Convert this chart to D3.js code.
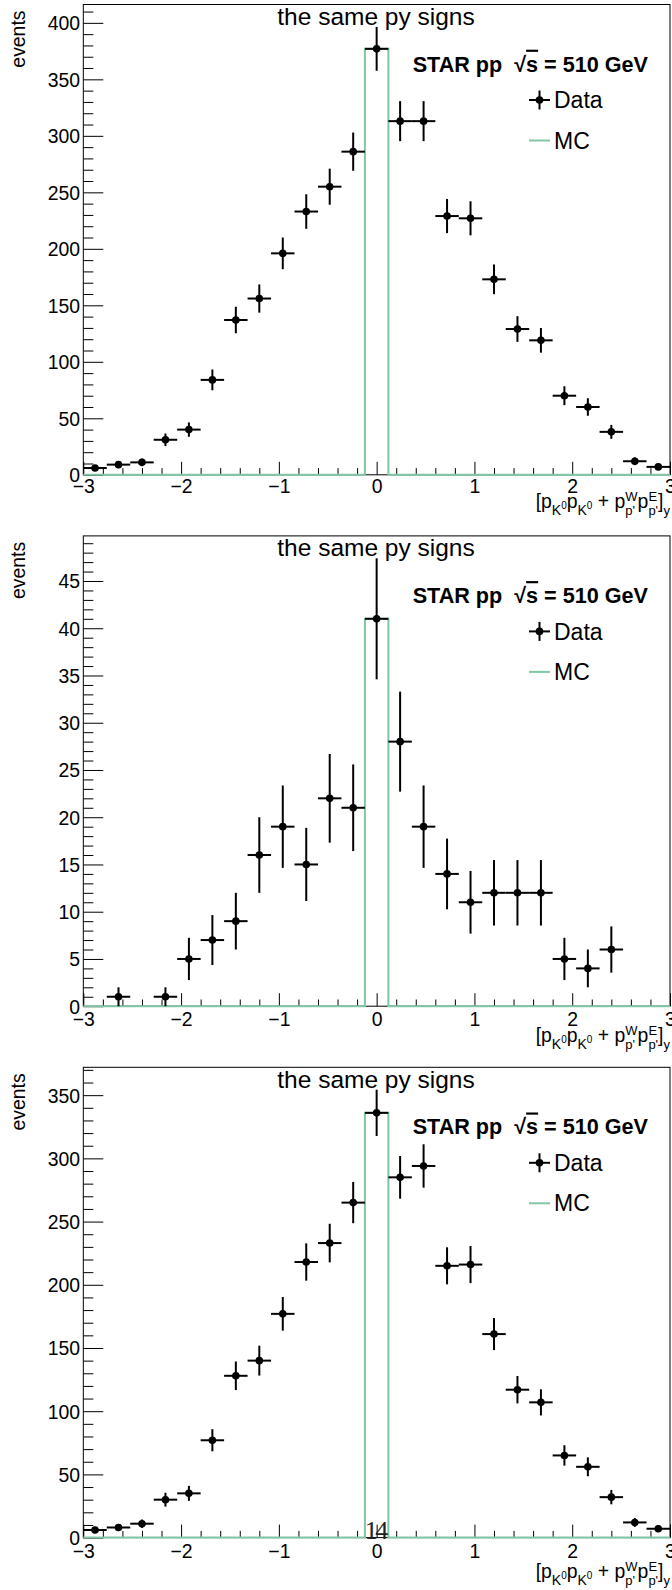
<!DOCTYPE html>
<html>
<head>
<meta charset="utf-8">
<script src="https://cdn.jsdelivr.net/npm/d3@7"></script>
<style>
  html, body { margin: 0; padding: 0; background: #fff; }
  svg { display: block; }
  text { font-family: "Liberation Sans", Arial, Helvetica, sans-serif; fill: #000; }
</style>
</head>
<body>
<svg id="chart" width="672" height="1590"></svg>
<script>
// ---------- data ----------
const binCenters = [-2.88, -2.64, -2.40, -2.16, -1.92, -1.68, -1.44, -1.20, -0.96, -0.72, -0.48, -0.24,
                    0.00, 0.24, 0.48, 0.72, 0.96, 1.20, 1.44, 1.68, 1.92, 2.16, 2.40, 2.64, 2.88];
const binWidth = 0.24;
const data1 = [6, 9, 11, 31, 40, 84, 137, 156, 196, 233, 255, 286, 377, 313, 313, 229, 227, 173, 129, 119, 70, 60, 38, 12, 7];
const data2 = [0, 1, 0, 1, 5, 7, 9, 16, 19, 15, 22, 21, 41, 28, 19, 14, 11, 12, 12, 12, 5, 4, 6, 0, 0];
const data3 = [6, 8, 11, 30, 35, 77, 128, 140, 177, 218, 233, 265, 336, 285, 294, 215, 216, 161, 117, 107, 65, 56, 32, 12, 7];
const mc1 = [0, 0, 0, 0, 0, 0, 0, 0, 0, 0, 0, 0, 377, 0, 0, 0, 0, 0, 0, 0, 0, 0, 0, 0, 0];
const mc2 = [0, 0, 0, 0, 0, 0, 0, 0, 0, 0, 0, 0, 41, 0, 0, 0, 0, 0, 0, 0, 0, 0, 0, 0, 0];
const mc3 = [0, 0, 0, 0, 0, 0, 0, 0, 0, 0, 0, 0, 336, 0, 0, 0, 0, 0, 0, 0, 0, 0, 0, 0, 0];
const xTickLabels = [-3, -2, -1, 0, 1, 2, 3];
const yMajor1 = [0, 50, 100, 150, 200, 250, 300, 350, 400];
const yMajor2 = [0, 5, 10, 15, 20, 25, 30, 35, 40, 45];
const yMajor3 = [0, 50, 100, 150, 200, 250, 300, 350];
const yMinorStep = [10, 1, 10];
const titleText = "the same py signs";
const yTitle = "events";
const legendLabels = ["Data", "MC"];

const panels = [
  { data: data1, mc: mc1, major: yMajor1, minor: yMinorStep[0], note: null, labPad: 4.5, titleOff: 33 },
  { data: data2, mc: mc2, major: yMajor2, minor: yMinorStep[1], note: null, labPad: 6, titleOff: 36 },
  { data: data3, mc: mc3, major: yMajor3, minor: yMinorStep[2], note: "14", labPad: 7, titleOff: 40 }
];

// ---------- layout ----------
const padH = 531.4;
const L = 83.3, R = 670, T = 4.5, B = 474.8;
const green = "#80c6a4";
const fs = 19.4;

const svg = d3.select("#chart");

const x = d3.scaleLinear().domain([-3, 3]).range([L, R]);

panels.forEach((p, i) => {
  const g = svg.append("g").attr("transform", `translate(0,${i * padH})`);
  const ymax = 1.05 * d3.max(p.data, v => v + Math.sqrt(v));
  const y = d3.scaleLinear().domain([0, ymax]).range([B, T]);

  // minor y ticks
  const minorTicks = d3.range(0, ymax, p.minor).filter(v => !p.major.includes(v));
  g.append("g").attr("transform", `translate(${L},0)`)
    .call(d3.axisLeft(y).tickValues(minorTicks).tickSizeInner(-10).tickSizeOuter(0).tickFormat(""))
    .call(s => s.select(".domain").remove())
    .call(s => s.selectAll("line").attr("stroke", "#000").attr("stroke-width", 1));
  // major y ticks
  g.append("g").attr("transform", `translate(${L},0)`)
    .call(d3.axisLeft(y).tickValues(p.major).tickSizeInner(-20).tickSizeOuter(0).tickPadding(3.3).tickFormat(d3.format("d")))
    .call(s => s.select(".domain").remove())
    .call(s => s.selectAll("line").attr("stroke", "#000").attr("stroke-width", 1))
    .call(s => s.selectAll("text").attr("font-size", fs).attr("font-family", null).attr("dy", "0.36em"));

  // x minor ticks
  const xMinor = d3.range(-3, 3.0001, 0.2).map(v => +v.toFixed(2)).filter(v => Math.abs(v - Math.round(v)) > 1e-6);
  g.append("g").attr("transform", `translate(0,${B})`)
    .call(d3.axisBottom(x).tickValues(xMinor).tickSizeInner(-6.7).tickSizeOuter(0).tickFormat(""))
    .call(s => s.select(".domain").remove())
    .call(s => s.selectAll("line").attr("stroke", "#000").attr("stroke-width", 1));
  g.append("g").attr("transform", `translate(0,${B})`)
    .call(d3.axisBottom(x).tickValues(xTickLabels).tickSizeInner(-13).tickSizeOuter(0).tickPadding(p.labPad)
      .tickFormat(d => d < 0 ? "\u2212" + Math.abs(d) : String(d)))
    .call(s => s.select(".domain").remove())
    .call(s => s.selectAll("line").attr("stroke", "#000").attr("stroke-width", 1))
    .call(s => s.selectAll("text").attr("font-size", fs).attr("font-family", null));

  // frame
  g.append("rect").attr("x", L).attr("y", T).attr("width", R - L).attr("height", B - T)
    .attr("fill", "none").attr("stroke", "#000").attr("stroke-width", 1);

  // MC histogram outline
  const pts = [];
  binCenters.forEach((c, k) => {
    pts.push([c - binWidth / 2, p.mc[k]]);
    pts.push([c + binWidth / 2, p.mc[k]]);
  });
  const line = d3.line().x(d => x(d[0])).y(d => y(d[1]));
  g.append("path").attr("d", line(pts)).attr("fill", "none")
    .attr("stroke", green).attr("stroke-width", 2);

  // note text (panel 3)
  if (p.note) {
    g.append("text").attr("x", x(0) - 12).attr("y", B + 1.5).text(p.note)
      .style("font-family", "'Liberation Serif', 'Times New Roman', serif")
      .attr("font-size", 26).attr("letter-spacing", -2.5).style("fill", "#222");
  }

  // data points with error bars
  const pd = binCenters.map((c, k) => ({ c, v: p.data[k] })).filter(d => d.v > 0);
  const dg = g.append("g");
  dg.selectAll("line.h").data(pd).join("line")
    .attr("x1", d => x(d.c - binWidth / 2)).attr("x2", d => x(d.c + binWidth / 2))
    .attr("y1", d => y(d.v)).attr("y2", d => y(d.v))
    .attr("stroke", "#000").attr("stroke-width", 2);
  dg.selectAll("line.v").data(pd).join("line")
    .attr("x1", d => x(d.c)).attr("x2", d => x(d.c))
    .attr("y1", d => y(d.v - Math.sqrt(d.v))).attr("y2", d => y(d.v + Math.sqrt(d.v)))
    .attr("stroke", "#000").attr("stroke-width", 2);
  dg.selectAll("circle").data(pd).join("circle")
    .attr("cx", d => x(d.c)).attr("cy", d => y(d.v)).attr("r", 3.8).attr("fill", "#000");

  // title
  g.append("text").attr("x", 376).attr("y", 25).attr("text-anchor", "middle")
    .attr("font-size", 24.5).text(titleText);

  // y title
  g.append("text").attr("transform", `translate(24.5,10.5) rotate(-90)`)
    .attr("text-anchor", "end").attr("font-size", fs).text(yTitle);

  // STAR label
  const st = g.append("text").attr("x", 412.7).attr("y", 71.7).attr("font-size", 21.6)
    .attr("font-weight", "bold").style("white-space", "pre");
  st.append("tspan").text("STAR pp  \u221A");
  st.append("tspan").style("text-decoration", "overline").text("s");
  st.append("tspan").text(" = 510 GeV");

  // legend
  const ly1 = 100, ly2 = 140.5;
  g.append("line").attr("x1", 529).attr("x2", 550).attr("y1", ly1).attr("y2", ly1).attr("stroke", "#000").attr("stroke-width", 2);
  g.append("line").attr("x1", 539.5).attr("x2", 539.5).attr("y1", ly1 - 9.5).attr("y2", ly1 + 9.5).attr("stroke", "#000").attr("stroke-width", 2);
  g.append("circle").attr("cx", 539.5).attr("cy", ly1).attr("r", 3.8).attr("fill", "#000");
  g.append("text").attr("x", 554).attr("y", ly1 + 8.2).attr("font-size", 23).text(legendLabels[0]);
  g.append("line").attr("x1", 529).attr("x2", 550).attr("y1", ly2).attr("y2", ly2).attr("stroke", green).attr("stroke-width", 2);
  g.append("text").attr("x", 554).attr("y", ly2 + 8.2).attr("font-size", 23).text(legendLabels[1]);

  // x-axis title with sub/superscripts
  const segs = [
    { t: "[p", s: fs, b: 0 },
    { t: "K", s: 14, b: 7 },
    { t: "0", s: 10, b: 1 },
    { t: "p", s: fs, b: 0 },
    { t: "K", s: 14, b: 7 },
    { t: "0", s: 10, b: 1 },
    { t: " + p", s: fs, b: 0 },
    { t: "W", s: 13, b: -7 },
    { t: "p'", s: 13, b: 7, dx: -12.3 },
    { t: "p", s: fs, b: 0, dx: 2.6 },
    { t: "E", s: 13, b: -7 },
    { t: "p'", s: 13, b: 7, dx: -8.7 },
    { t: "]", s: fs, b: 0 },
    { t: "y", s: 13, b: 7 }
  ];
  const xt = g.append("text").attr("x", 670).attr("y", B + p.titleOff).attr("text-anchor", "end")
    .style("white-space", "pre");
  let prev = 0;
  segs.forEach(sg => {
    const ts = xt.append("tspan").attr("font-size", sg.s).attr("dy", sg.b - prev).text(sg.t);
    if (sg.dx) ts.attr("dx", sg.dx);
    prev = sg.b;
  });
});
</script>
</body>
</html>
